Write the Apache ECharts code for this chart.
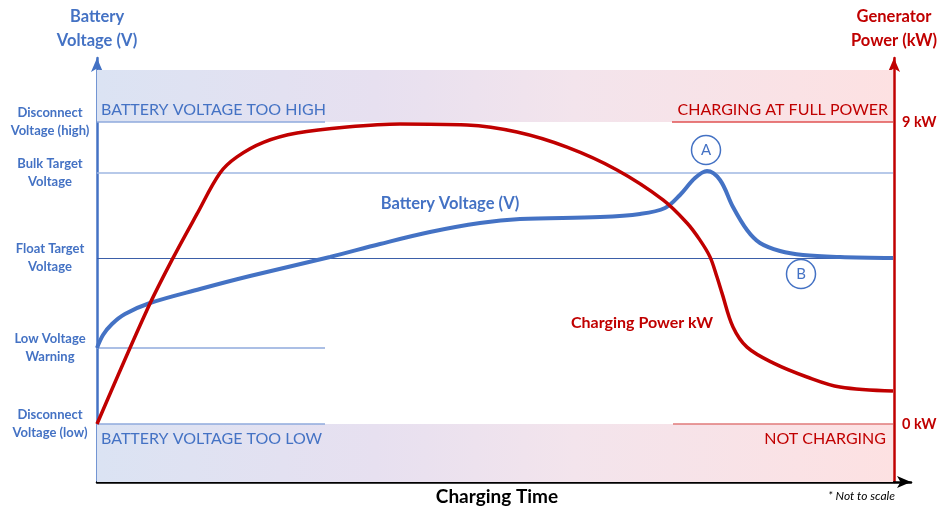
<!DOCTYPE html>
<html>
<head>
<meta charset="utf-8">
<script src="https://cdn.jsdelivr.net/npm/echarts@6/dist/echarts.min.js"></script>
<style>
  html, body { margin: 0; padding: 0; background: #fff; }
  #chargeChart { width: 946px; height: 510px; }
</style>
</head>
<body>
<div id="chargeChart"></div>
<script>
// battery voltage curve (schematic, not to scale)
var voltageTime  = [0, 6, 15, 28, 53, 103, 153, 233, 283, 333, 383, 423, 503, 543, 568, 583, 598, 610, 623, 636, 650, 663, 683, 706, 743, 796];
var voltageLevel = [134, 147, 158, 168, 179, 193, 206, 225, 238, 250, 259, 263, 265, 268, 274, 287, 304, 311, 302, 275, 252, 239, 231, 227, 225, 224];
// generator charging power, kW
var powerTime = [0, 50, 75, 100, 123, 140, 167, 200, 250, 303, 370, 420, 470, 520, 566, 590, 603, 613, 620, 625, 636, 650, 676, 710, 743, 796];
var powerKw   = [0, 3.40, 4.89, 6.26, 7.48, 7.96, 8.40, 8.67, 8.85, 8.94, 8.91, 8.70, 8.25, 7.57, 6.68, 5.99, 5.48, 4.98, 4.38, 3.90, 2.89, 2.29, 1.82, 1.40, 1.10, 0.98];
// voltage thresholds on the left axis
var levelValues = [58, 134, 224, 309, 360];
var levelNames  = ['Disconnect\nVoltage (low)', 'Low Voltage\nWarning', 'Float Target\nVoltage', 'Bulk Target\nVoltage', 'Disconnect\nVoltage (high)'];
var powerTicks  = [0, 9];

var BLUE = '#4472C4', RED = '#C00000', FONT = 'Lato';

function pairs(xs, ys) {
	var out = [];
	for (var i = 0; i < xs.length; i++) out.push([xs[i], ys[i]]);
	return out;
}
function seg(x0, x1, y, color, width) {
	return [{ coord: [x0, y], lineStyle: { color: color, width: width, type: 'solid' } }, { coord: [x1, y] }];
}
function note(x, y, text, color, size, weight, align) {
	return {
		coord: [x, y], symbol: 'circle', symbolSize: 0,
		label: { show: true, position: 'inside', formatter: text, color: color, fontSize: size,
			fontWeight: weight, fontFamily: FONT, align: align, verticalAlign: 'middle' }
	};
}
function bubble(x, y, text) {
	return {
		coord: [x, y], symbol: 'circle', symbolSize: 29,
		itemStyle: { color: '#fff', borderColor: BLUE, borderWidth: 1.5 },
		label: { show: true, position: 'inside', formatter: text, color: BLUE, fontSize: 15, fontFamily: FONT }
	};
}
var bandColor = new echarts.graphic.LinearGradient(0, 0, 1, 0, [
	{ offset: 0, color: '#dbe3f3' },
	{ offset: 0.35, color: '#e7e0f0' },
	{ offset: 0.6, color: '#f3e4ec' },
	{ offset: 1, color: '#fde1e2' }
]);

var chargeChart = echarts.init(document.getElementById('chargeChart'));
var chargeChartOption = {
	animation: false,
	grid: { left: 97, right: 35, top: 58, bottom: 28, outerBoundsMode: 'none' },
	xAxis: {
		type: 'value', min: 0, max: 814,
		name: 'Charging Time', nameLocation: 'middle', nameGap: 5,
		nameTextStyle: { color: '#000', fontSize: 19, fontWeight: 'bold', fontFamily: FONT, verticalAlign: 'top', padding: [0, 14, 0, 0] },
		axisLine: { lineStyle: { color: '#000', width: 2.5 }, symbol: ['none', 'arrow'], symbolSize: [9, 14] },
		axisTick: { show: false }, axisLabel: { show: false }, splitLine: { show: false }
	},
	yAxis: [{
		type: 'value', min: 0, max: 424, position: 'left',
		name: 'Battery\nVoltage (V)', nameLocation: 'end', nameGap: 5,
		nameTextStyle: { color: BLUE, fontSize: 16.5, fontWeight: 'bold', fontFamily: FONT, lineHeight: 24, align: 'center' },
		axisLine: { show: true, lineStyle: { color: BLUE, width: 2.5 }, symbol: ['none', 'arrow'], symbolSize: [9, 14] },
		axisTick: { show: false }, splitLine: { show: false },
		axisLabel: {
			customValues: levelValues, margin: 47, align: 'center',
			color: BLUE, fontSize: 13, fontWeight: 'bold', fontFamily: FONT, lineHeight: 18, padding: [0, 0, 4, 0],
			formatter: function (v) { return levelNames[levelValues.indexOf(v)]; }
		}
	}, {
		type: 'value', min: -1.7285, max: 10.907, position: 'right', offset: -17,
		name: 'Generator\nPower (kW)', nameLocation: 'end', nameGap: 5,
		nameTextStyle: { color: RED, fontSize: 16.5, fontWeight: 'bold', fontFamily: FONT, lineHeight: 24, align: 'center' },
		axisLine: { show: true, lineStyle: { color: RED, width: 2.5 }, symbol: ['none', 'arrow'], symbolSize: [9, 14] },
		axisTick: { show: false }, splitLine: { show: false },
		axisLabel: {
			customValues: powerTicks, margin: 8, color: RED, fontSize: 14.5, fontWeight: 'bold', fontFamily: FONT,
			formatter: '{value} kW'
		}
	}],
	series: [{
		name: 'Battery Voltage (V)', type: 'line', yAxisIndex: 0,
		data: pairs(voltageTime, voltageLevel),
		smooth: 0.35, showSymbol: false, z: 3,
		lineStyle: { color: BLUE, width: 4 },
		markArea: {
			silent: true, z: 1,
			itemStyle: { color: bandColor },
			data: [
				[{ coord: [0, 360] }, { coord: [796, 412] }],
				[{ coord: [0, 0] }, { coord: [796, 58] }]
			]
		},
		markLine: {
			silent: true, symbol: 'none', label: { show: false }, z: 2,
			data: [
				seg(0, 228, 360, '#8faadc', 1.5),
				seg(0, 796, 309, '#9fb7e2', 1.5),
				seg(0, 796, 224, '#3b5ea8', 1),
				seg(0, 228, 134, '#8faadc', 1.5),
				seg(0, 228, 58, '#8faadc', 1.5)
			]
		},
		markPoint: {
			silent: true, z: 5,
			data: [
				note(4, 372, 'BATTERY VOLTAGE TOO HIGH', BLUE, 16, 'normal', 'left'),
				note(4, 43, 'BATTERY VOLTAGE TOO LOW', BLUE, 16, 'normal', 'left'),
				note(353, 278, 'Battery Voltage (V)', BLUE, 16.5, 'bold', 'center'),
				bubble(609, 332, 'A'),
				bubble(704, 208, 'B')
			]
		}
	}, {
		name: 'Charging Power kW', type: 'line', yAxisIndex: 1,
		data: pairs(powerTime, powerKw),
		smooth: 0.35, showSymbol: false, z: 4,
		lineStyle: { color: RED, width: 3.5 },
		markLine: {
			silent: true, symbol: 'none', label: { show: false }, z: 2,
			data: [
				seg(575, 796, 9, '#e05252', 1.5),
				seg(576, 796, 0, '#e07a7a', 1.5)
			]
		},
		markPoint: {
			silent: true, z: 5,
			data: [
				note(791, 9.36, 'CHARGING AT FULL POWER', RED, 16, 'normal', 'right'),
				note(789, -0.45, 'NOT CHARGING', RED, 16, 'normal', 'right'),
				note(545, 3.01, 'Charging Power kW', RED, 16, 'bold', 'center')
			]
		}
	}],
	graphic: [{
		type: 'text', right: 51, top: 490,
		style: { text: '* Not to scale', fill: '#000', font: 'italic 12px Lato' }
	}]
};
chargeChart.setOption(chargeChartOption);
</script>
</body>
</html>
